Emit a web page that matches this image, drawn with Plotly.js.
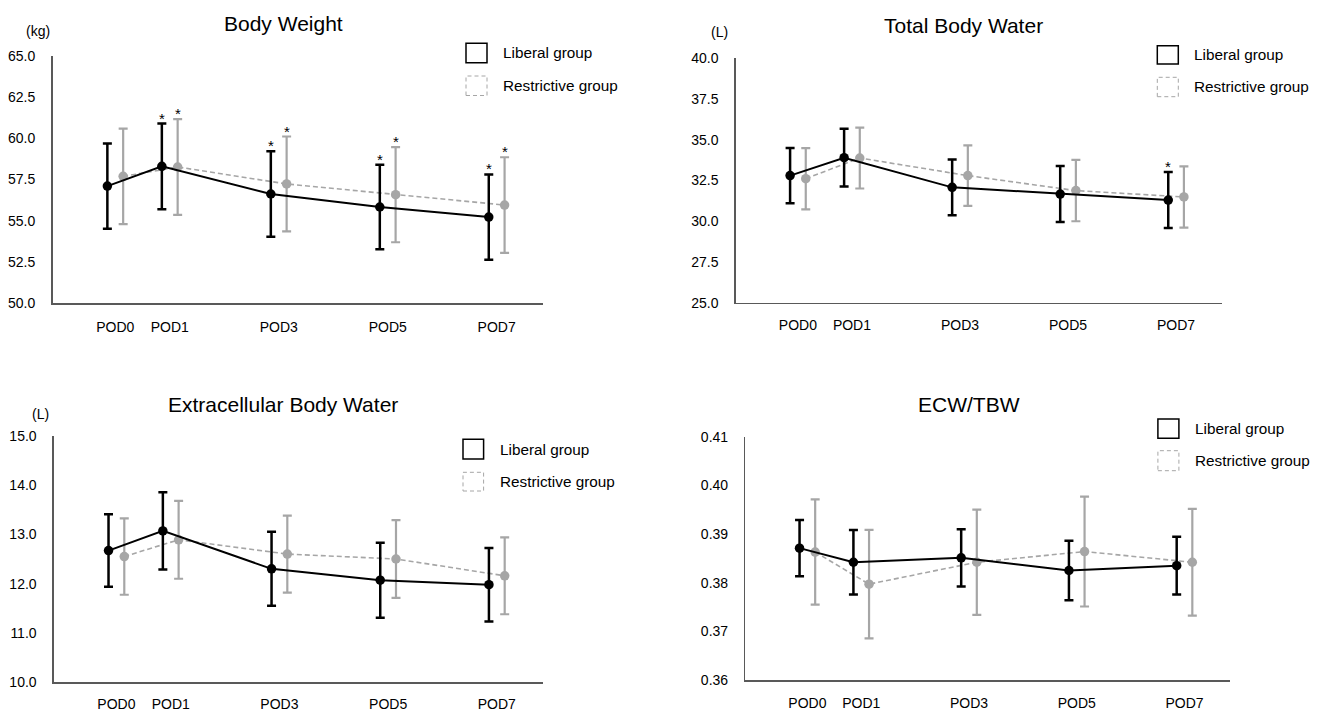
<!DOCTYPE html>
<html>
<head>
<meta charset="utf-8">
<script src="https://cdn.plot.ly/plotly-3.0.1.min.js"></script>
<style>html,body{margin:0;padding:0;background:#fff;}#chart{width:1320px;height:712px;}</style>
</head>
<body>
<div id="chart"></div>
<script>
// ---------- data ----------
const days = [0, 1, 3, 5, 7];
const podLabels = ['POD0', 'POD1', 'POD3', 'POD5', 'POD7'];
const groupNames = ['Liberal group', 'Restrictive group'];

const bwLiberalMean = [57.10, 58.30, 56.62, 55.83, 55.22];
const bwLiberalSD = [2.59, 2.60, 2.59, 2.57, 2.59];
const bwRestrictiveMean = [57.69, 58.26, 57.23, 56.58, 55.95];
const bwRestrictiveSD = [2.90, 2.91, 2.88, 2.89, 2.90];
const bwSigLiberal = [false, true, true, true, true];
const bwSigRestrictive = [false, true, true, true, true];

const tbwLiberalMean = [32.80, 33.90, 32.08, 31.67, 31.30];
const tbwLiberalSD = [1.69, 1.77, 1.71, 1.72, 1.72];
const tbwRestrictiveMean = [32.61, 33.88, 32.80, 31.88, 31.49];
const tbwRestrictiveSD = [1.88, 1.87, 1.86, 1.88, 1.88];
const tbwSigLiberal = [false, false, false, false, true];
const tbwSigRestrictive = [false, false, false, false, false];

const ecwLiberalMean = [12.67, 13.07, 12.30, 12.07, 11.98];
const ecwLiberalSD = [0.735, 0.785, 0.75, 0.76, 0.745];
const ecwRestrictiveMean = [12.55, 12.89, 12.60, 12.50, 12.16];
const ecwRestrictiveSD = [0.775, 0.79, 0.78, 0.79, 0.78];

const ratioLiberalMean = [0.3871, 0.3842, 0.3851, 0.3825, 0.3835];
const ratioLiberalSD = [0.0058, 0.00665, 0.0059, 0.0061, 0.00595];
const ratioRestrictiveMean = [0.3863, 0.3797, 0.3842, 0.3864, 0.3842];
const ratioRestrictiveSD = [0.0108, 0.01115, 0.0108, 0.0113, 0.01095];

const bwTicks = [50.0, 52.5, 55.0, 57.5, 60.0, 62.5, 65.0];
const tbwTicks = [25.0, 27.5, 30.0, 32.5, 35.0, 37.5, 40.0];
const ecwTicks = [10.0, 11.0, 12.0, 13.0, 14.0, 15.0];
const ratioTicks = [0.36, 0.37, 0.38, 0.39, 0.40, 0.41];

// ---------- layout helpers ----------
const W = 1320, H = 712;
const FONT = 'Liberation Sans, Arial, Helvetica, sans-serif';
const px = x => x / W;
const py = y => 1 - y / H;
const BLACK = '#000000';
const GRAY = '#a6a6a6';
const OFF = 0.145;

const panels = [
  {title: 'Body Weight', unit: '(kg)', L: [bwLiberalMean, bwLiberalSD, bwSigLiberal], R: [bwRestrictiveMean, bwRestrictiveSD, bwSigRestrictive],
   ticks: bwTicks, fmt: '.1f', box: [52.6, 543, 56, 303], titlePos: [283, 23.5], unitPos: [38, 30.5],
   leg: [466, 487, 43.3, 62.7, 76, 95.5], xlabOff: 11},
  {title: 'Total Body Water', unit: '(L)', L: [tbwLiberalMean, tbwLiberalSD, tbwSigLiberal], R: [tbwRestrictiveMean, tbwRestrictiveSD, tbwSigRestrictive],
   ticks: tbwTicks, fmt: '.1f', box: [735.8, 1222, 58.3, 302.7], titlePos: [963.5, 25], unitPos: [719.5, 32],
   leg: [1157.3, 1178.3, 45.7, 64, 77.3, 96.7], xlabOff: 9},
  {title: 'Extracellular Body Water', unit: '(L)', L: [ecwLiberalMean, ecwLiberalSD, null], R: [ecwRestrictiveMean, ecwRestrictiveSD, null],
   ticks: ecwTicks, fmt: '.1f', box: [53.9, 543, 435.7, 682.3], titlePos: [282.6, 404.5], unitPos: [40, 414],
   leg: [463, 483.6, 439.3, 459, 472.3, 491], xlabOff: 8},
  {title: 'ECW/TBW', unit: '', L: [ratioLiberalMean, ratioLiberalSD, null], R: [ratioRestrictiveMean, ratioRestrictiveSD, null],
   ticks: ratioTicks, fmt: '.2f', box: [745.4, 1230.3, 436.7, 680], titlePos: [969.3, 404], unitPos: null,
   leg: [1157.9, 1178.9, 419, 438.3, 450.7, 470.7], xlabOff: 10}
];

const traces = [];
const layout = {
  width: W, height: H,
  margin: {l: 0, r: 0, t: 0, b: 0},
  paper_bgcolor: '#ffffff', plot_bgcolor: 'rgba(0,0,0,0)',
  showlegend: false,
  font: {family: FONT, color: '#000', size: 14},
  annotations: [], shapes: []
};

panels.forEach((p, i) => {
  const n = i === 0 ? '' : String(i + 1);
  const xa = 'x' + n, ya = 'y' + n;
  const [x0, x1, y0, y1] = p.box;
  layout['xaxis' + n] = {
    domain: [px(x0), px(x1)], anchor: ya, range: [-1.15, 7.85],
    tickmode: 'array', tickvals: days, ticktext: podLabels,
    ticks: 'outside', ticklen: p.xlabOff, tickcolor: 'rgba(0,0,0,0)',
    showline: true, linecolor: '#595959', linewidth: 1.5,
    showgrid: false, zeroline: false, fixedrange: true,
    tickfont: {family: FONT, size: 14, color: '#000'}
  };
  layout['yaxis' + n] = {
    domain: [py(y1), py(y0)], anchor: xa,
    range: [p.ticks[0], p.ticks[p.ticks.length - 1]],
    tickmode: 'array', tickvals: p.ticks, tickformat: p.fmt,
    ticks: 'outside', ticklen: 13, tickcolor: 'rgba(0,0,0,0)',
    showline: true, linecolor: '#595959', linewidth: 1.5,
    showgrid: false, zeroline: false, fixedrange: true,
    tickfont: {family: FONT, size: 14, color: '#000'}
  };

  const groups = [
    {d: p.L, color: BLACK, dash: 'solid', lw: 2, off: -OFF, ew: 2.5, name: groupNames[0]},
    {d: p.R, color: GRAY, dash: '5px,3px', lw: 1.6, off: OFF, ew: 2.2, name: groupNames[1]}
  ];
  // draw restrictive first so liberal sits on top
  [groups[1], groups[0]].forEach(g => {
    const xs = days.map(d => d + g.off);
    traces.push({
      type: 'scatter', mode: 'lines+markers', xaxis: xa, yaxis: ya, name: g.name,
      x: xs, y: g.d[0],
      line: {color: g.color, width: g.lw, dash: g.dash},
      marker: {color: g.color, size: 9.5, symbol: 'circle'},
      error_y: {type: 'data', array: g.d[1], visible: true, color: g.color, thickness: g.ew, width: 4.5},
      cliponaxis: false, hoverinfo: 'skip'
    });
    if (g.d[2]) {
      g.d[2].forEach((sig, k) => {
        if (!sig) return;
        layout.annotations.push({
          xref: xa, yref: ya, x: xs[k], y: g.d[0][k] + g.d[1][k],
          text: '*', showarrow: false, xanchor: 'center', yanchor: 'bottom', yshift: -5,
          font: {family: FONT, size: 15, color: '#000'}
        });
      });
    }
  });

  // title
  layout.annotations.push({
    xref: 'paper', yref: 'paper', x: px(p.titlePos[0]), y: py(p.titlePos[1]),
    text: p.title, showarrow: false, xanchor: 'center', yanchor: 'middle',
    font: {family: FONT, size: 21, color: '#000'}
  });
  if (p.unitPos) {
    layout.annotations.push({
      xref: 'paper', yref: 'paper', x: px(p.unitPos[0]), y: py(p.unitPos[1]),
      text: p.unit, showarrow: false, xanchor: 'center', yanchor: 'middle',
      font: {family: FONT, size: 14, color: '#000'}
    });
  }
  // legend
  const [lx0, lx1, ly0, ly1, ry0, ry1] = p.leg;
  layout.shapes.push({type: 'rect', xref: 'paper', yref: 'paper', x0: px(lx0), x1: px(lx1), y0: py(ly1), y1: py(ly0),
    line: {color: '#000', width: 1.5}, fillcolor: 'rgba(0,0,0,0)'});
  layout.shapes.push({type: 'rect', xref: 'paper', yref: 'paper', x0: px(lx0), x1: px(lx1), y0: py(ry1), y1: py(ry0),
    line: {color: GRAY, width: 1, dash: '4px,3px'}, fillcolor: 'rgba(0,0,0,0)'});
  layout.annotations.push({
    xref: 'paper', yref: 'paper', x: px(lx1 + 14), y: py((ly0 + ly1) / 2),
    text: groupNames[0], showarrow: false, xanchor: 'left', yanchor: 'middle',
    font: {family: FONT, size: 15.3, color: '#000'}
  });
  layout.annotations.push({
    xref: 'paper', yref: 'paper', x: px(lx1 + 14), y: py((ry0 + ry1) / 2),
    text: groupNames[1], showarrow: false, xanchor: 'left', yanchor: 'middle',
    font: {family: FONT, size: 15.3, color: '#000'}
  });
});

Plotly.newPlot('chart', traces, layout, {displayModeBar: false, staticPlot: true});
</script>
</body>
</html>
